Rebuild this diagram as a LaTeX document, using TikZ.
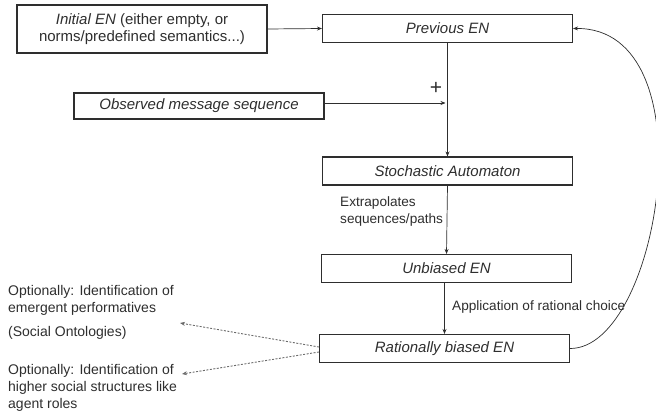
\documentclass[tikz,border=0pt]{standalone}
\usepackage{fontspec}
\setmainfont{Liberation Sans}
\usetikzlibrary{arrows.meta}
\definecolor{ink}{HTML}{2E2E2E}
\definecolor{dashink}{HTML}{6A6A6A}
\begin{document}
\begin{tikzpicture}[x=1pt,y=-1pt,
  enbox/.style={draw=ink,line width=1.1pt,minimum width=250pt,minimum height=28pt,
    inner sep=2pt,text=ink,font=\fontsize{15}{18}\selectfont\itshape},
  conn/.style={draw=ink,line width=0.7pt,-{Stealth[length=5pt,width=4pt]}},
  hint/.style={draw=dashink,line width=0.9pt,dash pattern=on 2pt off 1.5pt,
    -{Stealth[length=5pt,width=4pt]}},
  note/.style={text=ink,align=left,anchor=west,inner sep=0pt,
    font=\fontsize{14}{17}\selectfont},
  midnote/.style={text=ink,align=left,anchor=west,inner sep=0pt,
    font=\fontsize{13.6}{17}\selectfont}]
\useasboundingbox (0,0) rectangle (656,417);

% main chain of boxes
\node[enbox,minimum height=48pt,align=center] (init) at (142,29)
  {Initial EN {\upshape (either empty, or}\\[-1pt]{\upshape norms/predefined semantics...)}};
\node[enbox] (prev) at (447.5,28.5) {Previous EN};
\node[enbox,minimum height=26pt] (obs) at (199,106) {Observed message sequence};
\node[enbox] (stoch) at (447.5,171) {Stochastic Automaton};
\node[enbox] (unb) at (446.5,268.5) {Unbiased EN};
\node[enbox] (rat) at (444.5,348.5) {Rationally biased EN};

% side notes
\node[note] (perf) at (8,300) {Optionally: Identification of\\emergent performatives};
\node[note] (onto) at (8,333) {(Social Ontologies)};
\node[note] (roles) at (8,388) {Optionally: Identification of\\higher social structures like\\agent roles};
\coordinate (perftip) at (180,323);
\coordinate (roletip) at (182,374);

% flow
\draw[conn] (init.east) -- (prev.west);
\draw[conn] (prev.south) -- (stoch.north);
\coordinate (join) at (445.5,103);
\draw[conn] (obs.east |- join) -- (join);
\node[text=ink,inner sep=0pt,font=\fontsize{21}{21}\selectfont] (plus) at (436,88) {+};
\draw[conn] (stoch.south) -- (unb.north);
\node[midnote] (extra) at (340,211.5) {Extrapolates\\sequences/paths};
\draw[conn] (unb.south -| rat.north) -- (rat.north);
\node[midnote] (rational) at (452,307) {Application of rational choice};

% feedback loop
\draw[conn] (rat.east) .. controls (660,349) and (711,27) .. (prev.east);

% optional outputs
\draw[hint] (rat.west |- 0,347) -- (perftip);
\draw[hint] (rat.west |- 0,352) -- (roletip);
\end{tikzpicture}
\end{document}
